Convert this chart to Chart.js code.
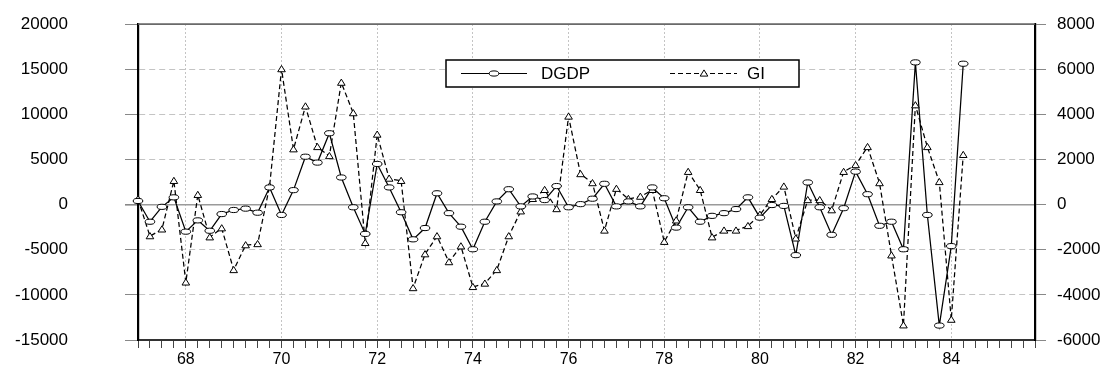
<!DOCTYPE html>
<html>
<head>
<meta charset="utf-8">
<script src="https://cdn.jsdelivr.net/npm/chart.js@4.4.1/dist/chart.umd.min.js"></script>
<style>
html,body{margin:0;padding:0;background:#fff;}
#wrap{position:relative;width:1104px;height:368px;}
</style>
</head>
<body>
<div id="wrap"><canvas id="c"></canvas></div>
<script>
// ---- data ----
const categories = [
 "1967Q1","1967Q2","1967Q3","1967Q4","1968Q1","1968Q2","1968Q3","1968Q4",
 "1969Q1","1969Q2","1969Q3","1969Q4","1970Q1","1970Q2","1970Q3","1970Q4",
 "1971Q1","1971Q2","1971Q3","1971Q4","1972Q1","1972Q2","1972Q3","1972Q4",
 "1973Q1","1973Q2","1973Q3","1973Q4","1974Q1","1974Q2","1974Q3","1974Q4",
 "1975Q1","1975Q2","1975Q3","1975Q4","1976Q1","1976Q2","1976Q3","1976Q4",
 "1977Q1","1977Q2","1977Q3","1977Q4","1978Q1","1978Q2","1978Q3","1978Q4",
 "1979Q1","1979Q2","1979Q3","1979Q4","1980Q1","1980Q2","1980Q3","1980Q4",
 "1981Q1","1981Q2","1981Q3","1981Q4","1982Q1","1982Q2","1982Q3","1982Q4",
 "1983Q1","1983Q2","1983Q3","1983Q4","1984Q1","1984Q2","1984Q3","1984Q4",
 "1985Q1","1985Q2","1985Q3","1985Q4"
];
const tickLabels = ["68","70","72","74","76","78","80","82","84"];
const tickCategories = ["1968Q1","1970Q1","1972Q1","1974Q1","1976Q1","1978Q1","1980Q1","1982Q1","1984Q1"];

// DGDP (left axis)
const dgdp = [
  400,-1900,-250,800,-3000,-1750,-2900,-1050,
  -600,-450,-900,1900,-1150,1600,5300,4650,
  7900,3000,-300,-3250,4500,1900,-850,-3850,
  -2600,1250,-950,-2450,-4950,-1900,350,1700,
  -200,900,500,2050,-300,50,650,2300,
  -200,350,-200,1900,700,-2550,-300,-1900,
  -1250,-950,-500,800,-1450,-50,-150,-5600,
  2450,-300,-3350,-400,3650,1150,-2350,-1900,
  -4950,15750,-1150,-13400,-4600,15600
];
// GI (right axis)
const gi = [
  240,-1400,-1100,1050,-3450,430,-1450,-1050,
  -2900,-1800,-1750,800,6000,2450,4350,2550,
  2150,5400,4050,-1700,3100,1150,1050,-3700,
  -2200,-1400,-2550,-1850,-3650,-3500,-2900,-1400,
  -300,250,650,-200,3900,1350,950,-1150,
  700,250,350,650,-1650,-700,1450,650,
  -1450,-1150,-1150,-950,-450,250,800,-1500,
  200,200,-250,1450,1750,2550,950,-2250,
  -5350,4400,2550,1000,-5100,2200
];
const seriesNames = ["DGDP","GI"];

const FONT='"Liberation Sans", Arial, sans-serif';

// vector markers
function drawEllipse(ctx,x,y){
  ctx.beginPath(); ctx.ellipse(x,y,4.8,2.6,0,0,Math.PI*2);
  ctx.fillStyle='#fff'; ctx.fill(); ctx.lineWidth=1; ctx.strokeStyle='#000'; ctx.stroke();
}
function drawTri(ctx,x,y){
  ctx.beginPath(); ctx.moveTo(x,y-3.6); ctx.lineTo(x+3.8,y+2.6); ctx.lineTo(x-3.8,y+2.6); ctx.closePath();
  ctx.fillStyle='#fff'; ctx.fill(); ctx.lineWidth=1; ctx.strokeStyle='#000'; ctx.stroke();
}

const frameTopPlugin={
  id:'frameTop',
  afterDraw(chart){
    const {ctx,chartArea:a}=chart;
    ctx.save(); ctx.strokeStyle='#666'; ctx.lineWidth=1.6; ctx.setLineDash([]);
    ctx.beginPath(); ctx.moveTo(a.left,a.top); ctx.lineTo(a.right,a.top); ctx.stroke();
    ctx.restore();
  }
};

const markerPlugin={
  id:'markers',
  afterDatasetsDraw(chart){
    const ctx=chart.ctx; ctx.save(); ctx.setLineDash([]);
    const m1=chart.getDatasetMeta(1);
    m1.data.forEach(p=>drawTri(ctx,p.x,p.y));
    const m0=chart.getDatasetMeta(0);
    m0.data.forEach(p=>drawEllipse(ctx,p.x,p.y));
    ctx.restore();
  }
};

const legendPlugin={
  id:'boxLegend',
  afterDraw(chart){
    const ctx=chart.ctx;
    ctx.save();
    const x0=446,y0=60,x1=799,y1=87, ym=(y0+y1)/2;
    ctx.fillStyle='#fff'; ctx.fillRect(x0,y0,x1-x0,y1-y0);
    ctx.lineWidth=1.5; ctx.strokeStyle='#000'; ctx.strokeRect(x0,y0,x1-x0,y1-y0);
    ctx.lineWidth=1.2;
    ctx.beginPath(); ctx.moveTo(461,ym); ctx.lineTo(527,ym); ctx.stroke();
    drawEllipse(ctx,494,ym);
    ctx.lineWidth=1.2; ctx.setLineDash([5,3]);
    ctx.beginPath(); ctx.moveTo(670,ym); ctx.lineTo(737,ym); ctx.stroke();
    ctx.setLineDash([]);
    drawTri(ctx,704,ym);
    ctx.fillStyle='#000'; ctx.font='17px '+FONT; ctx.textBaseline='middle';
    ctx.fillText(seriesNames[0],541,ym+1);
    ctx.fillText(seriesNames[1],747,ym+1);
    ctx.restore();
  }
};

const isMajor = (i)=> tickCategories.indexOf(categories[i])>=0;

new Chart(document.getElementById('c'),{
  type:'line',
  data:{
    labels:categories,
    datasets:[
      {label:seriesNames[0],data:dgdp,yAxisID:'y',borderColor:'#000',borderWidth:1.25,
       pointRadius:0,pointHoverRadius:0,tension:0,fill:false,order:0},
      {label:seriesNames[1],data:gi,yAxisID:'y2',borderColor:'#000',borderWidth:1.25,borderDash:[5,3],
       pointRadius:0,pointHoverRadius:0,tension:0,fill:false,order:1}
    ]
  },
  options:{
    responsive:true,maintainAspectRatio:false,animation:false,
    events:[],
    layout:{padding:{top:24,left:0,right:0,bottom:0}},
    plugins:{legend:{display:false},tooltip:{enabled:false}},
    scales:{
      x:{
        type:'category',offset:false,
        grid:{
          color:(c)=> (c.index!==undefined && isMajor(c.index)) ? '#c4c4c4' : 'rgba(0,0,0,0)',
          lineWidth:1, tickColor:'#444', tickLength:8, drawTicks:true
        },
        border:{display:true,color:'#333',width:1.5,dash:[2,2]},
        ticks:{autoSkip:false,maxRotation:0,minRotation:0,padding:2,color:'#000',
          font:{family:FONT,size:16},
          callback:(v,i)=>{const k=tickCategories.indexOf(categories[i]);return k>=0?tickLabels[k]:'';}},
        afterFit:(s)=>{s.height=28; s.paddingLeft=0; s.paddingRight=0;}
      },
      y:{
        type:'linear',position:'left',min:-15000,max:20000,
        ticks:{stepSize:5000,color:'#000',padding:57,font:{family:FONT,size:17},
          callback:(v)=>String(v)},
        grid:{
          color:(c)=>{const v=c.tick?c.tick.value:null; if(v===0)return '#9a9a9a'; if(v===20000)return '#777'; if(v===-15000)return '#333'; return '#c4c4c4';},
          lineWidth:(c)=>{const v=c.tick?c.tick.value:null; return v===0?1.6:1;},
          tickColor:'#888',tickLength:13
        },
        border:{display:true,color:'#000',width:2.2,
          dash:(c)=>{const v=c.tick?c.tick.value:null; return (v===0||v===20000||v===-15000||v===null)?[]:[6,4];}},
        afterFit:(s)=>{s.width=138; s.paddingTop=0; s.paddingBottom=0;}
      },
      y2:{
        type:'linear',position:'right',min:-6000,max:8000,
        ticks:{stepSize:2000,color:'#000',padding:11,font:{family:FONT,size:17},
          callback:(v)=>String(v)},
        grid:{drawOnChartArea:false,tickColor:'#888',tickLength:11},
        border:{display:true,color:'#000',width:2.2},
        afterFit:(s)=>{s.width=69; s.paddingTop=0; s.paddingBottom=0;}
      }
    }
  },
  plugins:[frameTopPlugin,markerPlugin,legendPlugin]
});
</script>
</body>
</html>
